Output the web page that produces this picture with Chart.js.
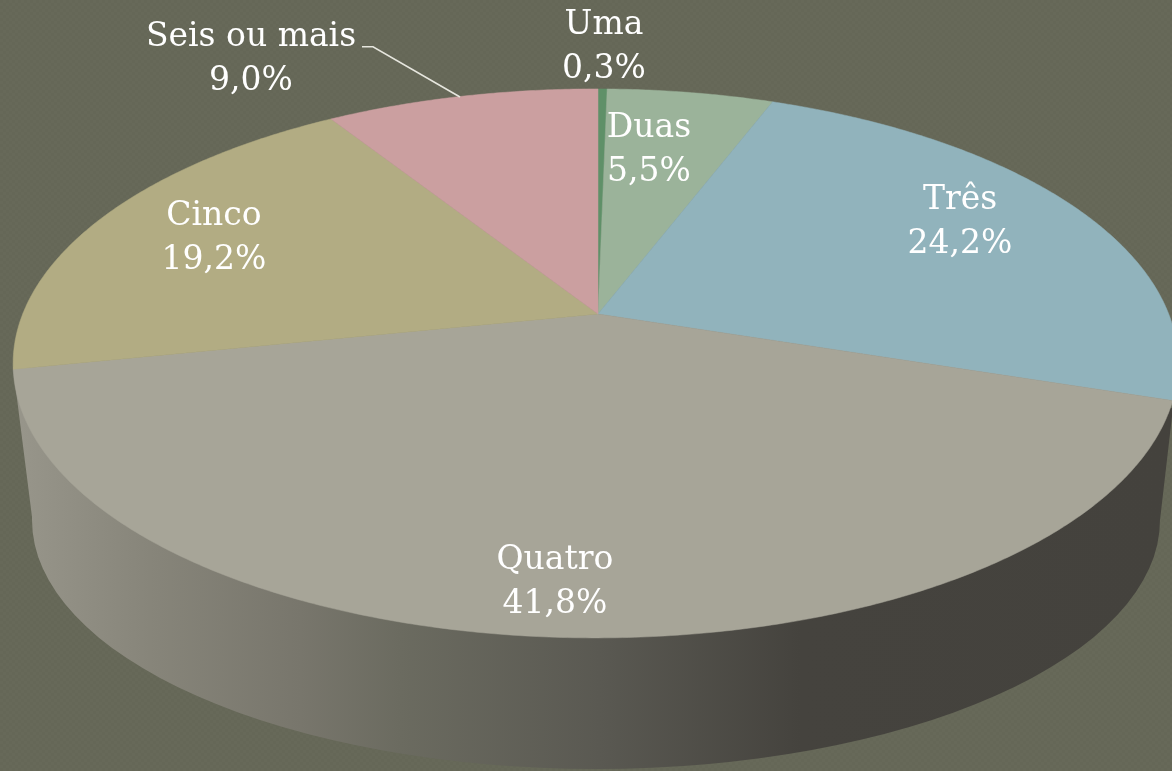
<!DOCTYPE html>
<html>
<head>
<meta charset="utf-8">
<style>
html,body{margin:0;padding:0;overflow:hidden;background:#666858 repeating-conic-gradient(#676959 0 25%, #656757 0 50%) 0 0/6px 6px}
canvas{display:block}
</style>
<script src="https://cdn.jsdelivr.net/npm/chart.js@4"></script>
</head>
<body>
<canvas id="c" width="1172" height="771"></canvas>
<script>
const categories = ['Uma', 'Duas', 'Três', 'Quatro', 'Cinco', 'Seis ou mais'];
const values = [0.3, 5.5, 24.2, 41.8, 19.2, 9.0];
const sliceColors = ['#5F9068', '#9BB39A', '#91B3BC', '#A7A598', '#B2AC83', '#CB9FA0'];
const labelCentres = [[604, 25], [649, 128], [960, 200], [555, 560], [214, 216], [251, 37]];

const P = {x0: 598, y0: 314, A: 265.6, B: 573, k: -0.18, j: 0.004};
function project(t) {
  const u = Math.cos(t), v = Math.sin(t), w = 1 + P.k * v + P.j * u;
  return [P.x0 + P.B * u / w, P.y0 + P.A * v / w];
}
function drawWall(ctx) {
  const g = ctx.createLinearGradient(13, 0, 1172, 0);
  [[0, '#98968B'], [0.118, '#87857A'], [0.248, '#78766C'], [0.334, '#6B6B60'], [0.506, '#5A5952'], [0.679, '#45433E'], [1, '#44423D']]
    .forEach(s => g.addColorStop(s[0], s[1]));
  ctx.save();
  ctx.fillStyle = g;
  ctx.beginPath();
  ctx.moveTo(13, 367);
  ctx.lineTo(32, 517);
  ctx.ellipse(596, 520, 564, 249, 0, Math.PI, 0, true);
  ctx.lineTo(1173, 408);
  ctx.closePath();
  ctx.fill();
  ctx.restore();
}
function drawSlice(ctx, arc) {
  const step = Math.PI / 360;
  ctx.beginPath();
  ctx.moveTo(P.x0, P.y0);
  for (let t = arc.startAngle; t < arc.endAngle; t += step) {
    const p = project(t);
    ctx.lineTo(p[0], p[1]);
  }
  const e = project(arc.endAngle);
  ctx.lineTo(e[0], e[1]);
  ctx.closePath();
  ctx.fillStyle = arc.options.backgroundColor;
  ctx.strokeStyle = arc.options.backgroundColor;
  ctx.lineWidth = 0.5;
  ctx.fill();
  ctx.stroke();
}
const perspectivePie = {
  id: 'perspectivePie',
  beforeDatasetDraw(chart, args) {
    const ctx = chart.ctx;
    drawWall(ctx);
    args.meta.data.forEach(arc => drawSlice(ctx, arc));
    return false;
  },
  afterDraw(chart) {
    const ctx = chart.ctx;
    ctx.save();
    ctx.strokeStyle = '#E6E6DE';
    ctx.lineWidth = 1.6;
    ctx.beginPath();
    ctx.moveTo(362, 46.7);
    ctx.lineTo(373, 46.7);
    ctx.lineTo(460, 97);
    ctx.stroke();
    ctx.fillStyle = '#FFFFFF';
    ctx.textAlign = 'center';
    ctx.textBaseline = 'middle';
    ctx.font = '33px "DejaVu Serif", serif';
    categories.forEach((name, i) => {
      const c = labelCentres[i];
      ctx.fillText(name, c[0], c[1]);
      ctx.fillText(values[i].toFixed(1).replace('.', ',') + '%', c[0], c[1] + 44);
    });
    ctx.restore();
  }
};
new Chart(document.getElementById('c'), {
  type: 'pie',
  data: {
    labels: categories,
    datasets: [{data: values, backgroundColor: sliceColors, borderWidth: 0}]
  },
  options: {
    responsive: false,
    animation: false,
    plugins: {legend: {display: false}, tooltip: {enabled: false}}
  },
  plugins: [perspectivePie]
});
</script>
</body>
</html>
